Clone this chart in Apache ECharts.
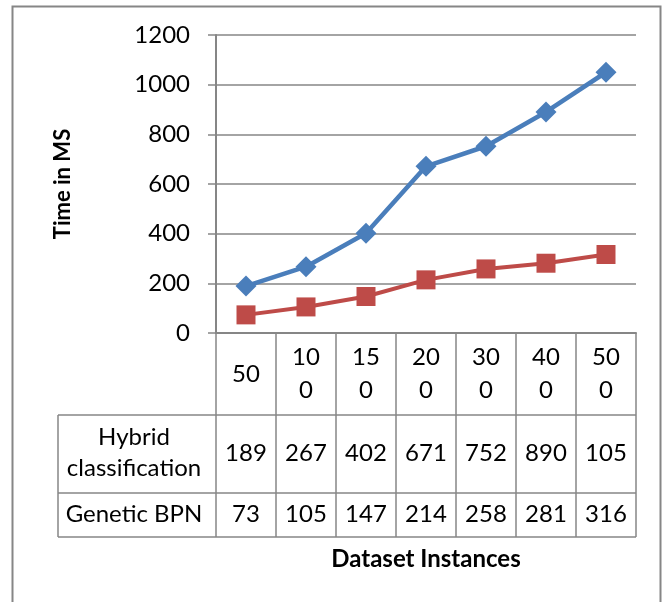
<!DOCTYPE html>
<html>
<head>
<meta charset="utf-8">
<script src="https://cdn.jsdelivr.net/npm/echarts@6/dist/echarts.min.js"></script>
<style>
  html, body { margin: 0; padding: 0; background: #ffffff; }
  #chart { width: 667px; height: 602px; }
</style>
</head>
<body>
<div id="chart"></div>
<script>
// Dataset sizes (x categories)
const categories = ['50', '100', '150', '200', '300', '400', '500'];
// Execution time in ms for each method
const hybridClassification = [189, 267, 402, 671, 752, 890, 1050];
const geneticBPN = [73, 105, 147, 214, 258, 281, 316];
// Series names used in the data table rows
const seriesNames = ['Hybrid classification', 'Genetic BPN'];
// Y axis range
const yMin = 0, yMax = 1200, yStep = 200;

const FONT = 'Lato';
const FS = 24;
const GRID_COLOR = '#868686';
const TEXT_COLOR = '#000000';

const chart = echarts.init(document.getElementById('chart'), null, { renderer: 'canvas' });

const baseOption = {
  animation: false,
  backgroundColor: '#ffffff',
  textStyle: { fontFamily: FONT },
  grid: { left: 216, right: 31, top: 35, bottom: 269 },
  xAxis: {
    type: 'category',
    data: categories,
    boundaryGap: true,
    axisLine: { lineStyle: { color: GRID_COLOR, width: 2 } },
    axisTick: { show: true, interval: 0, length: 82, lineStyle: { color: GRID_COLOR, width: 1.5 } },
    axisLabel: {
      interval: 0, margin: 41, verticalAlign: 'middle',
      fontFamily: FONT, fontSize: FS, color: TEXT_COLOR, lineHeight: 33,
      width: 34, overflow: 'breakAll'
    },
    name: 'Dataset Instances',
    nameLocation: 'middle',
    nameGap: 226,
    nameTextStyle: { fontFamily: FONT, fontSize: 24, fontWeight: 'bold', color: TEXT_COLOR, verticalAlign: 'middle' }
  },
  yAxis: {
    type: 'value',
    min: yMin, max: yMax, interval: yStep,
    axisLine: { show: true, lineStyle: { color: GRID_COLOR, width: 2 } },
    axisTick: { show: true, length: 8, lineStyle: { color: GRID_COLOR, width: 1.5 } },
    axisLabel: { margin: 26, fontFamily: FONT, fontSize: FS, color: TEXT_COLOR, formatter: v => String(v) },
    splitLine: { show: true, lineStyle: { color: GRID_COLOR, width: 1.5 } },
    name: 'Time in MS',
    nameLocation: 'middle',
    nameGap: 142,
    nameRotate: 90,
    nameTextStyle: { fontFamily: FONT, fontSize: 22, fontWeight: 'bold', color: TEXT_COLOR }
  },
  series: [
    {
      name: seriesNames[0], type: 'line', data: hybridClassification,
      symbol: 'diamond', symbolSize: 21,
      lineStyle: { color: '#4a7ebb', width: 4.5 },
      itemStyle: { color: '#4a7ebb' }
    },
    {
      name: seriesNames[1], type: 'line', data: geneticBPN,
      symbol: 'rect', symbolSize: 19,
      lineStyle: { color: '#be4b48', width: 4 },
      itemStyle: { color: '#be4b48' }
    }
  ]
};

chart.setOption(baseOption);

// Long row names wrap onto two lines at the first space
function wrapRowName(name) {
  return name.length > 14 ? name.replace(' ', '\n') : name;
}

// Data table under the plot, laid out from the category axis positions
function buildTable() {
  const rowHeights = [78, 44];
  const headerH = 82;
  const tableLeft = 58;
  const yAxisZero = chart.convertToPixel({ yAxisIndex: 0 }, yMin);
  const centers = categories.map((c, i) => chart.convertToPixel({ xAxisIndex: 0 }, i));
  const band = centers[1] - centers[0];
  const bounds = centers.map(c => c - band / 2).concat([centers[centers.length - 1] + band / 2]);
  const tableRight = bounds[bounds.length - 1];

  const rowTops = [yAxisZero + headerH];
  rowHeights.forEach(h => rowTops.push(rowTops[rowTops.length - 1] + h));
  const top = rowTops[0], bottom = rowTops[rowTops.length - 1];

  const lineStyle = { stroke: GRID_COLOR, lineWidth: 1.5 };
  const els = [];

  // outer frame of the chart area
  els.push({ type: 'rect', shape: { x: 12.5, y: 6.5, width: 648, height: 640 },
             style: { fill: null, stroke: GRID_COLOR, lineWidth: 2 }, silent: true });

  rowTops.forEach(y => {
    els.push({ type: 'line', shape: { x1: tableLeft, y1: y, x2: tableRight, y2: y }, style: lineStyle, silent: true });
  });
  [tableLeft].concat(bounds).forEach(x => {
    els.push({ type: 'line', shape: { x1: x, y1: top, x2: x, y2: bottom }, style: lineStyle, silent: true });
  });

  const rows = [hybridClassification, geneticBPN];
  rows.forEach((vals, r) => {
    const cy = rowTops[r] + rowHeights[r] / 2;
    els.push({
      type: 'text', x: (tableLeft + bounds[0]) / 2 - 3, y: cy - 1, silent: true,
      style: {
        text: wrapRowName(seriesNames[r]), fontFamily: FONT, fontSize: FS, fill: TEXT_COLOR,
        align: 'center', verticalAlign: 'middle', lineHeight: 31
      }
    });
    vals.forEach((v, i) => {
      els.push({
        type: 'text', x: centers[i], y: cy - 1, silent: true,
        style: {
          text: String(v), fontFamily: FONT, fontSize: FS, fill: TEXT_COLOR,
          align: 'center', verticalAlign: 'middle', lineHeight: 33,
          width: 46, overflow: 'breakAll', height: 33, lineOverflow: 'truncate'
        }
      });
    });
  });

  chart.setOption({ graphic: { elements: els } });
}

buildTable();
</script>
</body>
</html>
